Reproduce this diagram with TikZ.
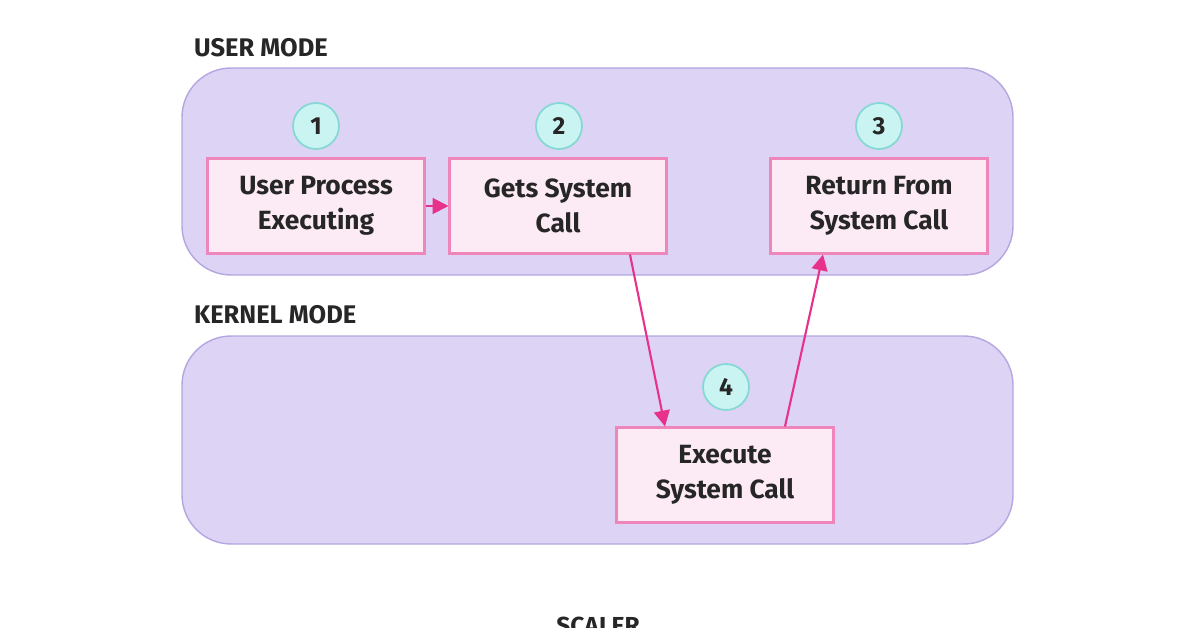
\documentclass[tikz,border=0pt]{standalone}
\usepackage{fontspec}
\setmainfont{Fira Sans}
\usetikzlibrary{arrows.meta}
\definecolor{panelfill}{HTML}{DCD3F5}
\definecolor{paneldraw}{HTML}{B4A6E0}
\definecolor{boxfill}{HTML}{FCEAF4}
\definecolor{boxdraw}{HTML}{EE86BC}
\definecolor{stepfill}{HTML}{C9F4F1}
\definecolor{stepdraw}{HTML}{86D8D4}
\definecolor{flow}{HTML}{E8318A}
\tikzset{
  panel/.style={
    draw=paneldraw, fill=panelfill, rounded corners=28pt, line width=0.8pt
  },
  mode/.style={
    anchor=west, font=\fontsize{14.5}{16}\selectfont\bfseries, text=black!85
  },
  steps/.style={
    box/.style={
      draw=boxdraw, fill=boxfill, line width=1.2pt, minimum width=4.34cm,
      minimum height=1.9cm, align=center, text=black!85,
      font=\fontsize{15}{20}\selectfont\bfseries
    },
    num/.style={
      circle, draw=stepdraw, fill=stepfill, line width=1pt,
      minimum size=0.92cm, inner sep=0pt, text=black!85,
      font=\fontsize{14}{16}\selectfont\bfseries
    },
  },
  call/.style={
    -{Triangle[length=9pt,width=9pt]}, draw=flow, line width=1.2pt
  }
}
\begin{document}
\begin{tikzpicture}[x=0.02cm,y=-0.02cm,steps]
\useasboundingbox (0,0) rectangle (1196,628);
% panels
\draw[panel] (182,68) rectangle (1013,275);
\draw[panel] (182,336) rectangle (1013,544);
\node[mode] (user) at (188,48) {USER MODE};
\node[mode] (kernel) at (188,315) {KERNEL MODE};
% steps
\node[box] (run) at (316,206) {User Process\\Executing};
\node[box] (gets) at (558,206) {Gets System\\Call};
\node[box] (ret) at (879,206) {Return From\\System Call};
\node[box] (exec) at (725,475) {Execute\\System Call};
\node[num] (n1) at (316,126) {1};
\node[num] (n2) at (559,126) {2};
\node[num] (n3) at (879,126) {3};
\node[num] (n4) at (726,387) {4};
% calls
\draw[call] (run) -- (gets);
\draw[call] ([xshift=1.44cm]gets.south) -- ([xshift=-1.2cm]exec.north);
\draw[call] ([xshift=1.2cm]exec.north) -- ([xshift=-1.12cm]ret.south);
\node[font=\fontsize{14}{16}\selectfont\bfseries, text=black!85] (brand) at (598,626) {SCALER};
\end{tikzpicture}
\end{document}
